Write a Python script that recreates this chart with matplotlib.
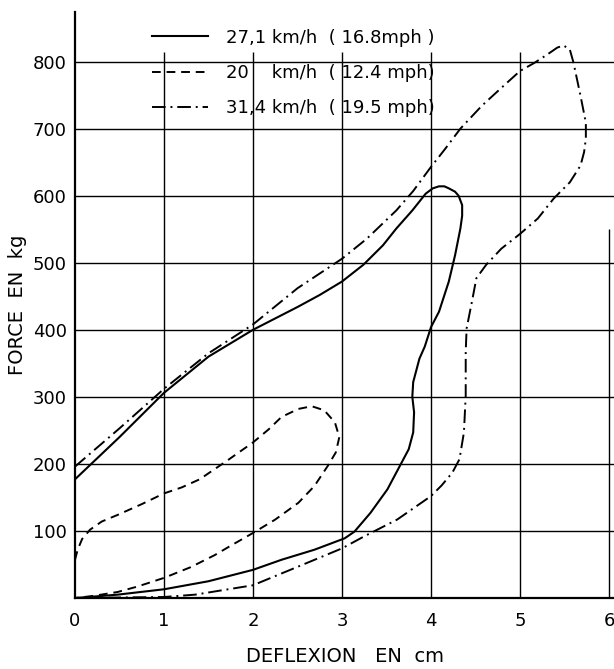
import matplotlib
matplotlib.use("Agg")
import matplotlib.pyplot as plt

# 27,1 km/h loop (solid)
x_271 = [0, 0.5, 1.0, 1.5, 2.0, 2.25, 2.5, 2.75, 3.0, 3.24, 3.46, 3.61, 3.79,
         3.94, 4.02, 4.09, 4.15, 4.2, 4.27, 4.31, 4.35, 4.35, 4.33, 4.27, 4.2,
         4.09, 4.0, 3.93, 3.87, 3.8, 3.79, 3.81, 3.8, 3.75, 3.65, 3.51, 3.32,
         3.14, 3.03, 2.69, 2.32, 2.0, 1.5, 1.0, 0.48, 0.2, 0]
y_271 = [177, 240, 306, 360, 400, 417, 434, 452, 472, 497, 526, 551, 578,
         603, 611, 614, 614, 611, 606, 600, 586, 570, 551, 511, 472,
         427, 404, 375, 357, 322, 300, 277, 247, 222, 197, 162, 127,
         99, 89, 72, 57, 42, 25, 13, 5, 2, 0]

# 20 km/h loop (dashed)
x_20 = [0, 0.03, 0.08, 0.17, 0.3, 0.48, 0.75, 1.0, 1.2, 1.4, 1.7, 2.0, 2.18,
        2.32, 2.51, 2.66, 2.8, 2.92, 2.97, 2.93, 2.84, 2.69, 2.51, 2.25, 2.0,
        1.75, 1.57, 1.3, 1.0, 0.7, 0.48, 0.2, 0]
y_20 = [57, 72, 88, 102, 114, 124, 140, 156, 165, 177, 204, 232, 252,
        270, 282, 286, 280, 262, 240, 217, 197, 167, 142, 117, 97,
        78, 64, 46, 30, 17, 9, 3, 0]

# 31,4 km/h loop (dash-dot)
x_314 = [0, 0.5, 1.0, 1.5, 2.0, 2.5, 3.0, 3.28, 3.61, 3.8, 4.0, 4.16, 4.33,
         4.57, 4.8, 5.0, 5.16, 5.3, 5.42, 5.49, 5.56, 5.6, 5.64, 5.68, 5.74,
         5.74, 5.72, 5.68, 5.56, 5.38, 5.2, 5.0, 4.79, 4.62, 4.51, 4.46, 4.4,
         4.39, 4.39, 4.37, 4.32, 4.24, 4.12, 4.0, 3.62, 3.25, 3.0, 2.51, 2.0,
         1.35, 1.0, 0]
y_314 = [196, 253, 312, 365, 408, 462, 506, 536, 578, 607, 643, 670, 700,
         734, 762, 786, 798, 810, 821, 824, 818, 799, 774, 749, 709,
         685, 665, 645, 620, 596, 566, 543, 521, 497, 477, 442, 402,
         367, 302, 247, 207, 187, 168, 152, 117, 92, 74, 47, 19,
         5, 1.5, 0]

legend_labels = ["27,1 km/h  ( 16.8mph )",
                 "20    km/h  ( 12.4 mph)",
                 "31,4 km/h  ( 19.5 mph)"]
x_ticks = [0, 1, 2, 3, 4, 5, 6]
y_ticks = [100, 200, 300, 400, 500, 600, 700, 800]

fig = plt.figure(figsize=(6.14, 6.69), dpi=100)
ax = fig.add_axes([75 / 614, 71 / 669, 539 / 614, 586 / 669])
ax.set_xlim(0, 539 / 89.0)
ax.set_ylim(0, 874)

# grid drawn by hand: verticals stop just above 800, right edge line is short
ax.hlines(y_ticks, 0, 7, color="black", lw=1.0, zorder=1)
ax.vlines(x_ticks[1:6], 0, 815, color="black", lw=1.0, zorder=1)
ax.vlines(6, 0, 550, color="black", lw=1.0, zorder=1)

ax.plot(x_271, y_271, color="black", lw=1.5, ls="-", label=legend_labels[0])
ax.plot(x_20, y_20, color="black", lw=1.4, ls=(0, (4.5, 3)), label=legend_labels[1])
ax.plot(x_314, y_314, color="black", lw=1.4, ls=(0, (7, 2.5, 1, 2.5)), label=legend_labels[2])

ax.legend(loc="upper left", bbox_to_anchor=(0.865, 849), bbox_transform=ax.transData,
          frameon=False, fontsize=13, handlelength=3.1, handletextpad=1.0,
          labelspacing=0.95, borderpad=0, borderaxespad=0)

for s in ["top", "right"]:
    ax.spines[s].set_visible(False)
for s in ["left", "bottom"]:
    ax.spines[s].set_linewidth(1.6)

ax.set_xticks(x_ticks)
ax.set_yticks(y_ticks)
ax.tick_params(axis="both", length=0, labelsize=13)
ax.tick_params(axis="x", pad=10)
ax.tick_params(axis="y", pad=6)

ax.set_xlabel("DEFLEXION   EN  cm", fontsize=14, labelpad=12)
ax.set_ylabel("FORCE  EN  kg", fontsize=14, labelpad=4)

fig.savefig("out.png", dpi=100)
